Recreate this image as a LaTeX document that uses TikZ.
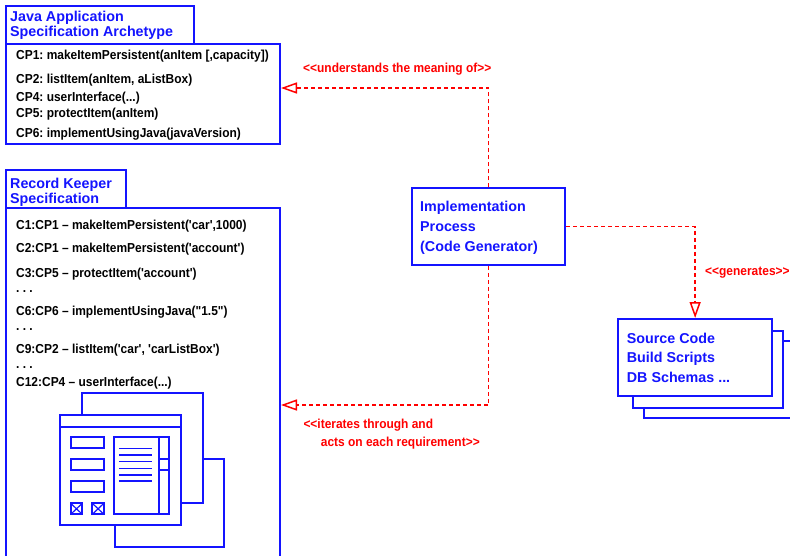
\documentclass[tikz,border=0pt]{standalone}
\usepackage{fontspec}
\setmainfont{Liberation Sans}
\newfontfamily\narrowfont{Liberation Sans}[FakeStretch=0.92]
\usetikzlibrary{arrows.meta}
\definecolor{umlblue}{RGB}{20,20,255}
\definecolor{umlred}{RGB}{255,0,0}
\frenchspacing

\begin{document}
\begin{tikzpicture}[x=1pt,y=-1pt,
  box/.style={draw=umlblue, line width=2pt, fill=white, inner sep=0, anchor=north west},
  icon/.style={draw=umlblue, line width=1.8pt},
  iconfill/.style={icon, fill=white},
  ttl/.style={anchor=west, inner sep=0, text=umlblue,
    font=\fontsize{14.3}{15}\selectfont\bfseries, text height=10.2pt, text depth=0pt},
  item/.style={anchor=west, inner sep=0,
    font=\narrowfont\fontsize{13}{14}\selectfont\bfseries, text height=9.3pt, text depth=0pt},
  rlabel/.style={item, text=umlred},
  dep/.style={draw=umlred, line width=1.5pt, dash pattern=on 4pt off 3pt,
    -{Triangle[open, length=16pt, width=11pt, fill=white]}},
]
\useasboundingbox (0,0) rectangle (790,556);
\clip (0,0) rectangle (790,556);

% Java application archetype
\node[box, minimum width=188, minimum height=38] (archTab) at (5,5) {};
\node[box, minimum width=274, minimum height=100] (arch) at (5,43) {};
\node[ttl] (archT1) at (10,16.5) {Java Application};
\node[ttl] (archT2) at (10,31) {Specification Archetype};
\node[item] (cp1) at (16,54.5) {CP1: makeItemPersistent(anItem [,capacity])};
\node[item] (cp2) at (16,78.5) {CP2: listItem(anItem, aListBox)};
\node[item] (cp4) at (16,96.5) {CP4: userInterface(...)};
\node[item] (cp5) at (16,112.7) {CP5: protectItem(anItem)};
\node[item] (cp6) at (16,132.5) {CP6: implementUsingJava(javaVersion)};

% Record keeper specification
\node[box, minimum width=120, minimum height=38] (recTab) at (5,169) {};
\node[box, minimum width=274, minimum height=360] (rec) at (5,207) {};
\node[ttl] (recT1) at (10,183.3) {Record Keeper};
\node[ttl] (recT2) at (10,198.3) {Specification};
\node[item] (c1) at (16,225) {C1:CP1 – makeItemPersistent('car',1000)};
\node[item] (c2) at (16,248.3) {C2:CP1 – makeItemPersistent('account')};
\node[item] (c3) at (16,272.5) {C3:CP5 – protectItem('account')};
\node[item] (d1) at (16,287.8) {. . .};
\node[item] (c6) at (16,311) {C6:CP6 – implementUsingJava("1.5")};
\node[item] (d2) at (16,325.5) {. . .};
\node[item] (c9) at (16,349.3) {C9:CP2 – listItem('car', 'carListBox')};
\node[item] (d3) at (16,363.5) {. . .};
\node[item] (c12) at (16,381.5) {C12:CP4 – userInterface(...)};

% user interface sketch: three stacked windows
\draw[iconfill] (115,459.3) rectangle (224.3,546.7);
\draw[iconfill] (81.7,393.3) rectangle (202.7,503.3);
\draw[iconfill] (60,415) rectangle (180.7,525.3);
\draw[icon] (60,426.7) -- (180.7,426.7);
\draw[icon] (70.7,437.3) rectangle (104,448.3);
\draw[icon] (70.7,459.3) rectangle (104,470);
\draw[icon] (70.7,481) rectangle (104,492.3);
\foreach \bx in {70.7,92.3}{
  \draw[icon] (\bx,503.3) rectangle ++(11.6,11);
  \draw[icon, line width=1.2pt] (\bx,503.3) -- ++(11.6,11) (\bx,514.3) -- ++(11.6,-11);
}
\draw[icon] (114.3,437.3) rectangle (169.3,514.3);
\draw[icon] (158.7,437.3) -- (158.7,514.3);
\draw[icon] (158.7,459.3) -- (169.3,459.3) (158.7,470) -- (169.3,470);
\foreach \ly in {448.3,455,461.7,468.3,475,481}
  \draw[icon, line width=1.4pt] (119.3,\ly) -- (151.7,\ly);

% implementation process
\node[box, minimum width=153.6, minimum height=76.7] (impl) at (410.7,187.3) {};
\node[ttl] (implT1) at (420,206.7) {Implementation};
\node[ttl] (implT2) at (420,226) {Process};
\node[ttl] (implT3) at (420,246) {(Code Generator)};

% generated artefacts, stacked
\node[box, minimum width=154, minimum height=77.3] (src3) at (643.3,340) {};
\node[box, minimum width=149.4, minimum height=76.7] (src2) at (632.3,330) {};
\node[box, minimum width=153.7, minimum height=76.7] (src) at (617.3,318) {};
\node[ttl] (srcT1) at (626.7,338.3) {Source Code};
\node[ttl] (srcT2) at (626.7,357.3) {Build Scripts};
\node[ttl] (srcT3) at (626.7,377.3) {DB Schemas ...};

% dependencies
\draw[dep] (impl.north) |- ([yshift=6pt]arch.east);
\draw[dep] (impl.east) -| (src.north);
\draw[dep] (impl.south) |- ([yshift=-17pt]rec.east);

\node[rlabel] (lblU) at (303,68.3) {<\kern0pt<understands the meaning of>\kern0pt>};
\node[rlabel] (lblG) at (705,270.7) {<\kern0pt<generates>\kern0pt>};
\node[rlabel] (lblI1) at (303.3,424) {<\kern0pt<iterates through and};
\node[rlabel] (lblI2) at (320.7,441.7) {acts on each requirement>\kern0pt>};
\end{tikzpicture}
\end{document}
